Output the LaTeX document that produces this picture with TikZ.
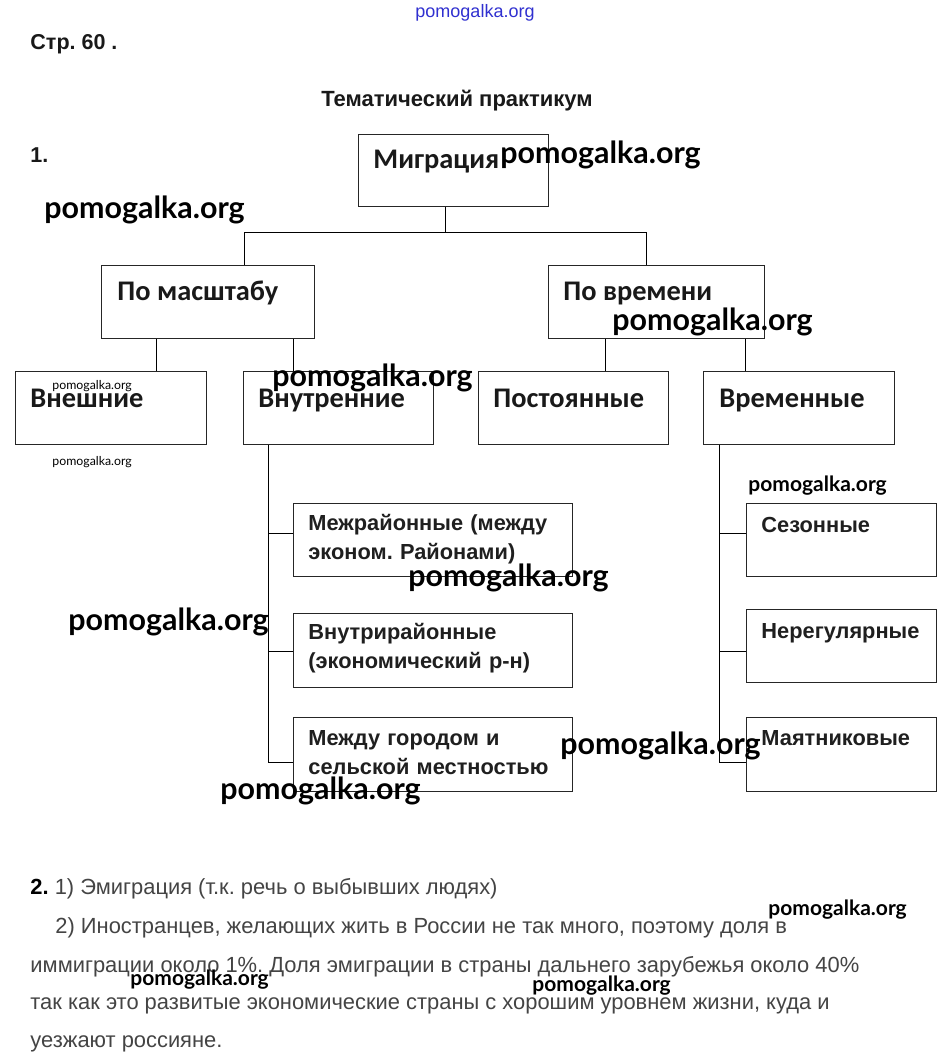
\documentclass[tikz,border=0pt]{standalone}
\usepackage{fontspec}
\setmainfont{Liberation Sans}
\newfontfamily\hfont{Carlito}
\newfontfamily\mfont{Lato}
\usetikzlibrary{calc,positioning}
\definecolor{boxline}{HTML}{262626}
\definecolor{bodygray}{HTML}{444444}
\definecolor{markblue}{HTML}{3030D0}
\frenchspacing

\begin{document}
\begin{tikzpicture}[x=1pt,y=-1pt,line width=0.9pt]

\tikzset{
box/.style={draw=boxline, anchor=north west, inner sep=0pt},
head/.style={anchor=base west, inner sep=0pt, font=\hfont\bfseries\fontsize{28.4}{30}\selectfont, text=black!90},
sub/.style={anchor=base west, inner sep=0pt, align=left, text width=265pt,
    font=\bfseries\fontsize{21.8}{29}\selectfont, text=black!88},
ttl/.style={anchor=base west, inner sep=0pt, font=\bfseries\fontsize{21.5}{22}\selectfont, text=black!90},
body/.style={anchor=base west, inner sep=0pt, font=\fontsize{21.9}{22}\selectfont, text=bodygray},
wm/.style={anchor=west, inner sep=0pt, font=\mfont\bfseries\fontsize{30.4}{31}\selectfont},
wmm/.style={wm, font=\mfont\bfseries\fontsize{21}{21}\selectfont},
wms/.style={wm, font=\mfont\fontsize{12.3}{12.3}\selectfont},
a/.style={draw=black}
}

\useasboundingbox[fill=white] (0,0) rectangle (948,1064);

% heading
\node[anchor=base, inner sep=0pt, font=\fontsize{18}{18}\selectfont, text=markblue] (site) at (475,18) {pomogalka.org};
\node[ttl] (page) at (30,50) {Стр. 60 .};
\node[ttl, font=\bfseries\fontsize{22}{22}\selectfont, anchor=base] (theme) at (457,107) {Тематический практикум};
\node[ttl] (num1) at (30,163) {1.};

% boxes
\node[box, minimum width=190pt, minimum height=72pt] (migr) at (358,134) {};
\node[box, minimum width=213pt, minimum height=73pt] (masht) at (101,265) {};
\node[box, minimum width=216pt, minimum height=73pt] (vrem) at (548,265) {};
\node[box, minimum width=191pt, minimum height=73pt] (vnesh) at (15,371) {};
\node[box, minimum width=190pt, minimum height=73pt] (vnutr) at (243,371) {};
\node[box, minimum width=190pt, minimum height=73pt] (post) at (478,371) {};
\node[box, minimum width=191pt, minimum height=73pt] (vremen) at (703,371) {};
\node[box, minimum width=279pt, minimum height=73pt] (mezhr) at (293,503) {};
\node[box, minimum width=279pt, minimum height=74pt] (vnutrr) at (293,613) {};
\node[box, minimum width=279pt, minimum height=74pt] (gorod) at (293,717) {};
\node[box, minimum width=190pt, minimum height=73pt] (sezon) at (746,503) {};
\node[box, minimum width=190pt, minimum height=73pt] (nereg) at (746,609) {};
\node[box, minimum width=190pt, minimum height=74pt] (mayat) at (746,717) {};

% box texts
\node[head] (migrt) at (373,169) {Миграция};
\node[head] (mashtt) at (117,301) {По масштабу};
\node[head] (vremt) at (563,301) {По времени};
\node[head] (vnesht) at (30,407) {Внешние};
\node[head] (vnutrt) at (258,407) {Внутренние};
\node[head] (postt) at (493,407) {Постоянные};
\node[head] (vrement) at (719,407) {Временные};
\node[sub] (mezhrt) at (308,530) {Межрайонные (между\\эконом. Районами)};
\node[sub] (vnutrrt) at (308,639) {Внутрирайонные\\(экономический р-н)};
\node[sub] (gorodt) at (308,745) {Между городом и\\сельской местностью};
\node[sub] (sezont) at (761,532) {Сезонные};
\node[sub] (ueregt) at (761,638) {Нерегулярные};
\node[sub] (mayatt) at (761,745) {Маятниковые};

% connectors
\coordinate (fork) at ($(migr.south west)+(87,26)$);
\draw[a] ($(migr.south west)+(87,0)$) -- (fork);
\draw[a] ($(masht.north west)+(143,0)$) |- ($(vrem.north west)+(98,-33)$) -- ($(vrem.north west)+(98,0)$);
\draw[a] ($(masht.south west)+(55,0)$) -- ($(vnesh.north west)+(141,0)$);
\draw[a] ($(masht.south west)+(192,0)$) -- ($(vnutr.north west)+(50,0)$);
\draw[a] ($(vrem.south west)+(57,0)$) -- ($(post.north west)+(127,0)$);
\draw[a] ($(vrem.south west)+(197,0)$) -- ($(vremen.north west)+(42,0)$);

\draw[a] ($(vnutr.south west)+(25,0)$) |- ($(gorod.north west)+(0,45)$);
\draw[a] ($(mezhr.north west)+(0,30)$) -- ++(-25,0);
\draw[a] ($(vnutrr.north west)+(0,38)$) -- ++(-25,0);
\draw[a] ($(vremen.south west)+(16,0)$) |- ($(mayat.north west)+(0,45)$);
\draw[a] ($(sezon.north west)+(0,30)$) -- ++(-27,0);
\draw[a] ($(nereg.north west)+(0,42)$) -- ++(-27,0);

% answer 2
\node[body] (ans1) at (30,894) {\textcolor{black}{\textbf{2.}} 1) Эмиграция (т.к. речь о выбывших людях)};
\node[body] (ans2) at (55,933) {2) Иностранцев, желающих жить в России не так много, поэтому доля в};
\node[body] (ans3) at (30,972) {иммиграции около 1\%. Доля эмиграции в страны дальнего зарубежья около 40\%};
\node[body] (ans4) at (30,1009) {так как это развитые экономические страны с хорошим уровнем жизни, куда и};
\node[body] (ans5) at (30,1047) {уезжают россияне.};

% watermarks
\node[wm] (wm1) at (500,155) {pomogalka.org};
\node[wm] (wm2) at (44,210) {pomogalka.org};
\node[wm] (wm3) at (612,322) {pomogalka.org};
\node[wms] (wm4) at (52,386) {pomogalka.org};
\node[wm] (wm5) at (272,378) {pomogalka.org};
\node[wms] (wm6) at (52,462) {pomogalka.org};
\node[wmm] (wm7) at (748,486) {pomogalka.org};
\node[wm] (wm8) at (408,578) {pomogalka.org};
\node[wm] (wm9) at (68,622) {pomogalka.org};
\node[wm] (wm10) at (560,746) {pomogalka.org};
\node[wm] (wm11) at (220,791) {pomogalka.org};
\node[wmm] (wm12) at (768,910) {pomogalka.org};
\node[wmm] (wm13) at (130,980) {pomogalka.org};
\node[wmm] (wm14) at (532,986) {pomogalka.org};

\end{tikzpicture}
\end{document}
